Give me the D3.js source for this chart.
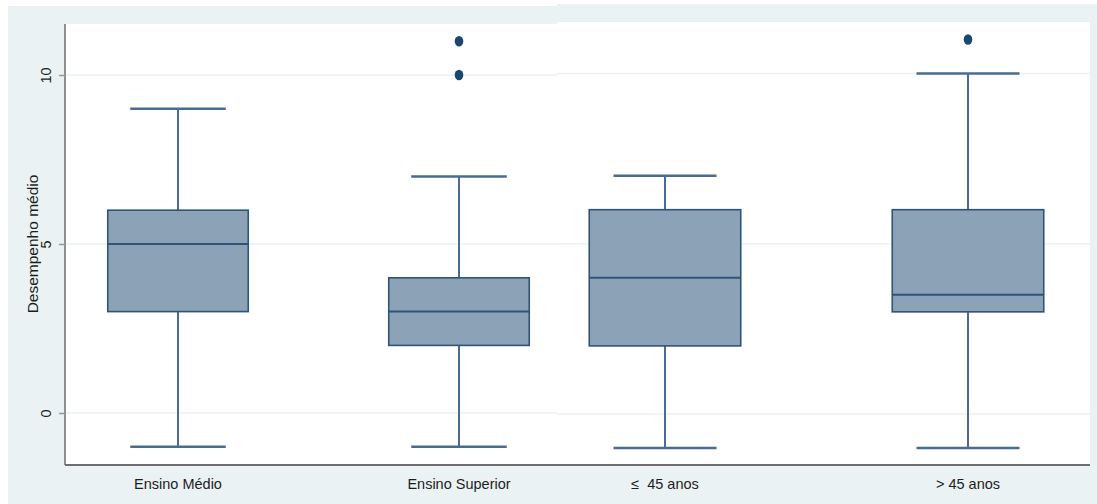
<!DOCTYPE html>
<html>
<head>
<meta charset="utf-8">
<script src="https://cdn.jsdelivr.net/npm/d3@7"></script>
<style>
  html, body { margin: 0; padding: 0; background: #fff; }
  svg { display: block; font-family: "Liberation Sans", Arial, sans-serif; }
</style>
</head>
<body>
<svg id="chart" width="1097" height="504"></svg>
<script>
// data
const categories  = ['Ensino Médio', 'Ensino Superior', '≤\u00a0\u00a045 anos', '> 45 anos'];
const panelOf     = [0, 0, 1, 1];
const whiskerLow  = [-1, -1, -1, -1];
const q1          = [3, 2, 2, 3];
const medians     = [5, 3, 4, 3.5];
const q3          = [6, 4, 6, 6];
const whiskerHigh = [9, 7, 7, 10];
const outliers    = [[], [10, 11], [], [11]];
const yTicks      = [0, 5, 10];
const yTitle      = 'Desempenho médio';

// the picture is two stata graphs stitched side by side
const panels = [
  { x0: 65, x1: 557, top: 24, bgTop: 6, bgLeft: 8, y0: 413, y10: 75, p0: 178, p1: 459 },
  { x0: 557, x1: 1090, top: 22, bgTop: 4, bgLeft: 557, y0: 414, y10: 73.5, p0: 665, p1: 968 }
];
const axisY = 465;

const colors = {
  bg: '#eaf2f3', grid: '#eaf2f3', fill: '#8ca2b7', edge: '#2e5479',
  whisker: '#4a6c90', dot: '#1a476f', axis: '#6e6e6e', text: '#1e1e1e'
};

const svg = d3.select('#chart');
const data = categories.map((c, i) => ({
  name: c, panel: panelOf[i], lo: whiskerLow[i], q1: q1[i], med: medians[i],
  q3: q3[i], hi: whiskerHigh[i], out: outliers[i]
}));

panels.forEach((p, pi) => {
  const right = pi === panels.length - 1;
  svg.append('rect')
    .attr('x', p.bgLeft).attr('y', p.bgTop)
    .attr('width', (right ? 1097 : p.x1) - p.bgLeft).attr('height', 504 - p.bgTop)
    .attr('fill', colors.bg);
  svg.append('rect')
    .attr('x', p.x0).attr('y', p.top)
    .attr('width', p.x1 - p.x0).attr('height', axisY - p.top)
    .attr('fill', '#fff');

  p.y = d3.scaleLinear().domain([0, 10]).range([p.y0, p.y10]);
  const cats = data.filter(d => d.panel === pi).map(d => d.name);
  p.x = d3.scalePoint().domain(cats).range([p.p0, p.p1]);
  p.step = p.p1 - p.p0;

  // grid
  svg.append('g').selectAll('line').data(yTicks).join('line')
    .attr('x1', p.x0).attr('x2', p.x1)
    .attr('y1', d => p.y(d)).attr('y2', d => p.y(d))
    .attr('stroke', colors.grid).attr('stroke-width', 1.5);
});

// y axis (left panel only)
const left = panels[0];
const yAxis = svg.append('g')
  .attr('transform', `translate(${left.x0},0)`)
  .call(d3.axisLeft(left.y).tickValues(yTicks).tickSize(6));
yAxis.select('.domain').attr('d', `M0,${left.top}V${axisY}`)
  .attr('stroke', colors.axis).attr('stroke-width', 1.5);
yAxis.selectAll('.tick line').attr('stroke', '#999').attr('stroke-width', 1.5);
yAxis.selectAll('.tick text')
  .attr('fill', colors.text).attr('font-size', 14.5)
  .attr('text-anchor', 'middle')
  .attr('x', 0).attr('y', -14)
  .attr('dy', '0')
  .attr('transform', 'rotate(-90)');

svg.append('text')
  .attr('transform', `translate(33,${left.y(5)}) rotate(-90)`)
  .attr('text-anchor', 'middle').attr('dy', '0.35em')
  .attr('font-size', 15.5).attr('fill', colors.text)
  .text(yTitle);

// x axis line across both panels
svg.append('line')
  .attr('x1', left.x0).attr('x2', panels[1].x1)
  .attr('y1', axisY).attr('y2', axisY)
  .attr('stroke', colors.axis).attr('stroke-width', 2);

// boxes
const g = svg.append('g');
data.forEach(d => {
  const p = panels[d.panel];
  const cx = p.x(d.name);
  const bw = p.step * 0.5;
  const cw = p.step * 0.34;
  const y = p.y;
  const b = g.append('g');

  [[d.lo, d.q1], [d.q3, d.hi]].forEach(([a, c]) => {
    b.append('line').attr('x1', cx).attr('x2', cx)
      .attr('y1', y(a)).attr('y2', y(c))
      .attr('stroke', colors.whisker).attr('stroke-width', 2);
  });
  [d.lo, d.hi].forEach(v => {
    b.append('line').attr('x1', cx - cw / 2).attr('x2', cx + cw / 2)
      .attr('y1', y(v)).attr('y2', y(v))
      .attr('stroke', colors.whisker).attr('stroke-width', 2.5);
  });
  b.append('rect')
    .attr('x', cx - bw / 2).attr('y', y(d.q3))
    .attr('width', bw).attr('height', y(d.q1) - y(d.q3))
    .attr('fill', colors.fill).attr('stroke', colors.edge).attr('stroke-width', 1.6);
  b.append('line').attr('x1', cx - bw / 2).attr('x2', cx + bw / 2)
    .attr('y1', y(d.med)).attr('y2', y(d.med))
    .attr('stroke', colors.edge).attr('stroke-width', 2);
  b.selectAll('ellipse').data(d.out).join('ellipse')
    .attr('cx', cx).attr('cy', v => y(v))
    .attr('rx', 4.3).attr('ry', 5.2)
    .attr('fill', colors.dot);
});

// category labels
svg.append('g').selectAll('text').data(data).join('text')
  .attr('x', d => panels[d.panel].x(d.name))
  .attr('y', 489)
  .attr('text-anchor', 'middle')
  .attr('font-size', 14.5).attr('fill', colors.text)
  .text(d => d.name);
</script>
</body>
</html>
